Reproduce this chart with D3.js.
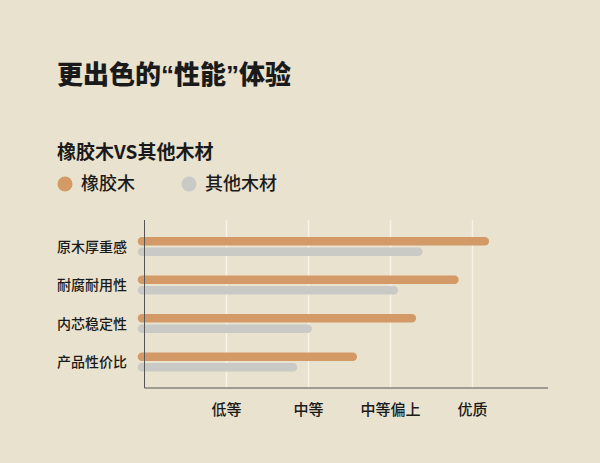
<!DOCTYPE html>
<html><head><meta charset="utf-8">
<script src="https://cdn.jsdelivr.net/npm/d3@7"></script>
<style>
html,body{margin:0;padding:0;background:#e9e2cf;}
svg{display:block;font-family:"Noto Sans CJK SC","Noto Sans",sans-serif;}
</style></head>
<body>
<svg id="c" width="600" height="463"></svg>
<script>
const categories = ["原木厚重感","耐腐耐用性","内芯稳定性","产品性价比"];
const seriesNames = ["橡胶木","其他木材"];
const rubberWood = [4.15, 3.78, 3.26, 2.54];
const otherWood = [3.34, 3.04, 1.99, 1.81];
const tickLabels = ["低等","中等","中等偏上","优质"];
const tickValues = [1,2,3,4];
const colors = ["#d39a67","#c9cac5"];

const svg = d3.select("#c");
svg.append("rect").attr("width",600).attr("height",463).attr("fill","#e9e2cf");

const title = svg.append("text").attr("x",57).attr("y",84).attr("font-size",26).attr("font-weight",900)
  .attr("fill","#1a1a1a");
[["更出色的",null],["“","Liberation Sans"],["性能",null],["”","Liberation Sans"],["体验",null]].forEach(([t,f])=>{
  const s = title.append("tspan").text(t);
  if (f) s.attr("font-family", f).attr("font-weight",700);
});
svg.append("text").attr("x",57).attr("y",159).attr("font-size",19).attr("font-weight",700)
  .attr("fill","#1a1a1a").text("橡胶木VS其他木材");

const legX = [65,189];
seriesNames.forEach((n,i)=>{
  svg.append("circle").attr("cx",legX[i]).attr("cy",184).attr("r",7.5).attr("fill",colors[i]);
  svg.append("text").attr("x",legX[i]+16).attr("y",184).attr("dy","0.36em").attr("font-size",18)
    .attr("font-weight",500).attr("fill","#1a1a1a").text(n);
});

const x = d3.scaleLinear().domain([0,4]).range([144.5,472.5]);
const y = d3.scalePoint().domain(categories).range([246.5,362]);
const plotTop = 220, plotBottom = 388;

// gridlines
svg.append("g").selectAll("line").data(tickValues).join("line")
  .attr("x1",d=>x(d)).attr("x2",d=>x(d)).attr("y1",plotTop).attr("y2",plotBottom)
  .attr("stroke","#f8f3e6").attr("stroke-width",1.5);

// bars
const data = categories.map((c,i)=>({c, vals:[rubberWood[i], otherWood[i]]}));
const offsets = [-5.2, 5.2];
const g = svg.append("g");
data.forEach(d=>{
  d.vals.forEach((v,j)=>{
    g.append("line").attr("x1",x(0)-2.5).attr("x2",x(v)).attr("y1",y(d.c)+offsets[j]).attr("y2",y(d.c)+offsets[j])
      .attr("stroke",colors[j]).attr("stroke-width",8.5).attr("stroke-linecap","round");
  });
});

// axes lines
svg.append("line").attr("x1",x(0)).attr("x2",x(0)).attr("y1",plotTop).attr("y2",plotBottom)
  .attr("stroke","#555").attr("stroke-width",1);
svg.append("line").attr("x1",x(0)).attr("x2",548).attr("y1",plotBottom).attr("y2",plotBottom)
  .attr("stroke","#555").attr("stroke-width",1);

// category labels
svg.append("g").selectAll("text").data(categories).join("text")
  .attr("x",57).attr("y",d=>y(d)).attr("dy","0.36em").attr("font-size",14).attr("font-weight",500)
  .attr("fill","#1a1a1a").text(d=>d);

// tick labels
svg.append("g").selectAll("text").data(tickValues).join("text")
  .attr("x",d=>x(d)).attr("y",410).attr("dy","0.36em").attr("text-anchor","middle")
  .attr("font-size",15).attr("font-weight",500).attr("fill","#1a1a1a").text((d,i)=>tickLabels[i]);
</script>
</body></html>
